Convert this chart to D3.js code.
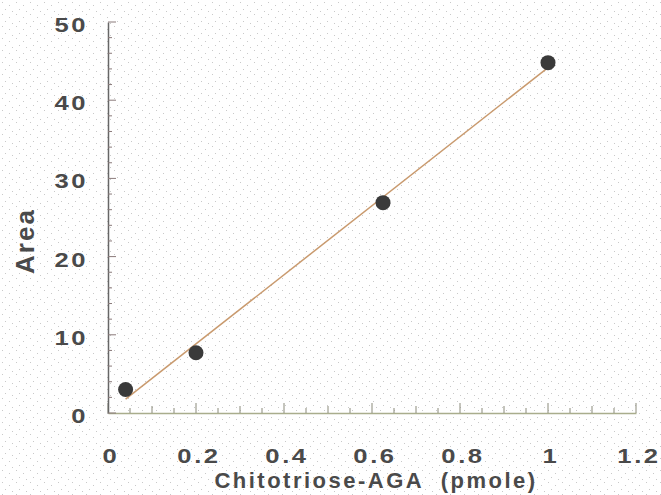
<!DOCTYPE html>
<html><head><meta charset="utf-8">
<script src="https://cdn.jsdelivr.net/npm/d3@7"></script>
<style>
body{margin:0;background:#fff;}
svg text{font-family:"Liberation Sans",Arial,sans-serif;font-weight:bold;fill:#4a4a4a;white-space:pre;}
</style></head>
<body><svg id="c" width="661" height="495"></svg>
<script>
const xValues = [0.04, 0.2, 0.625, 1.0];
const yValues = [3.0, 7.7, 26.9, 44.8];
const xTickLabels = ["0", "0.2", "0.4", "0.6", "0.8", "1", "1.2"];
const yTickLabels = ["0", "10", "20", "30", "40", "50"];
const xTitle = "Chitotriose-AGA  (pmole)";
const yTitle = "Area";

const svg = d3.select("#c");
const defs = svg.append("defs");
const pat = defs.append("pattern").attr("id","dots").attr("patternUnits","userSpaceOnUse")
  .attr("width",14).attr("height",12);
[[2,2],[9,5],[5,9],[12,11]].forEach(p=>pat.append("rect").attr("x",p[0]).attr("y",p[1]).attr("width",1).attr("height",1).attr("fill","#c9c9c9"));
svg.append("rect").attr("width",661).attr("height",495).attr("fill","#fff");
svg.append("rect").attr("width",661).attr("height",495).attr("fill","url(#dots)");

const x = d3.scaleLinear().domain([0,1.2]).range([108,636]);
const y = d3.scaleLinear().domain([0,50]).range([413,22]);

// x axis
const gx = svg.append("g").attr("transform","translate(0,413)");
gx.call(d3.axisTop(x).tickValues([]).tickSize(0).tickFormat(""));
gx.select(".domain").attr("stroke","#a9ad8c").attr("stroke-width",1.5);
gx.selectAll(".tickm").data(d3.range(0,25)).enter().append("line")
  .attr("x1",i=>x(i*0.05)).attr("x2",i=>x(i*0.05))
  .attr("y1",0).attr("y2",i=> i%4===0 ? -10 : (i%2===0 ? -7 : -5))
  .attr("stroke","#8a8a7a").attr("stroke-width",1);
xTickLabels.forEach(t=>{
  svg.append("g").attr("transform",`translate(${x(+t)+3},463) scale(1.28,1)`)
    .append("text").attr("text-anchor","middle")
    .attr("font-size",20).attr("letter-spacing",2).text(t);
});

// y axis
const gy = svg.append("g").attr("transform","translate(108,0)");
gy.call(d3.axisRight(y).tickValues([]).tickSize(0).tickFormat(""));
gy.select(".domain").attr("stroke","#666").attr("stroke-width",1.5);
gy.selectAll(".tickm").data(d3.range(0,26)).enter().append("line")
  .attr("x1",0).attr("x2",i=> i%5===0 ? 8 : 4)
  .attr("y1",i=>y(i*2)).attr("y2",i=>y(i*2))
  .attr("stroke","#8a7a7a").attr("stroke-width",1);
yTickLabels.forEach(t=>{
  svg.append("g").attr("transform",`translate(88,${y(+t)+10}) scale(1.28,1)`)
    .append("text").attr("text-anchor","end")
    .attr("font-size",20).attr("letter-spacing",2).text(t);
});

// regression line
const n = xValues.length;
const mx = d3.mean(xValues), my = d3.mean(yValues);
let sxy=0, sxx=0;
for(let i=0;i<n;i++){sxy+=(xValues[i]-mx)*(yValues[i]-my);sxx+=(xValues[i]-mx)**2;}
const slope = sxy/sxx, icpt = my - slope*mx;
const x0 = d3.min(xValues), x1 = d3.max(xValues);
svg.append("line").attr("x1",x(x0)).attr("y1",y(icpt+slope*x0))
  .attr("x2",x(x1)).attr("y2",y(icpt+slope*x1))
  .attr("stroke","#c99a6e").attr("stroke-width",1.5);

// points
svg.selectAll(".pt").data(xValues).enter().append("circle")
  .attr("cx",(d)=>x(d)).attr("cy",(d,i)=>y(yValues[i])).attr("r",7.5)
  .attr("fill","#3a3a3a");

// titles
svg.append("text").attr("x",376).attr("y",488).attr("text-anchor","middle")
  .attr("font-size",22).attr("letter-spacing",2.5).text(xTitle);
svg.append("text").attr("transform","translate(34,241) rotate(-90)").attr("text-anchor","middle")
  .attr("font-size",26).attr("letter-spacing",2).text(yTitle);
</script></body></html>
